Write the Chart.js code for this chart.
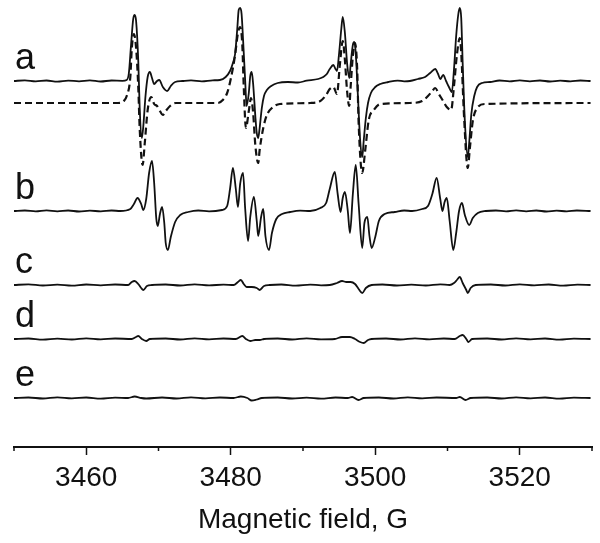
<!DOCTYPE html>
<html>
<head>
<meta charset="utf-8">
<script src="https://cdn.jsdelivr.net/npm/chart.js@4.4.0/dist/chart.umd.min.js"></script>
<style>
  body { margin: 0; background: #fff; }
  #wrap { width: 600px; height: 543px; }
</style>
</head>
<body>
<div id="wrap"><canvas id="eprChart"></canvas></div>
<script>
// EPR spectra, magnetic field in G, intensity in arbitrary units (baseline = 0)
const traceLabels = ['a', 'b', 'c', 'd', 'e'];
const tickValues = [3460, 3480, 3500, 3520];
const minorTickValues = [3450, 3470, 3490, 3510, 3530];

// trace a, solid
const aField = [3450.0, 3451.5, 3453.0, 3454.5, 3456.0, 3457.5, 3459.0, 3460.5, 3462.0, 3463.5, 3465.0,
  3465.6, 3465.9, 3466.2, 3466.5, 3466.7, 3466.9, 3467.2, 3467.4, 3467.7, 3467.9, 3468.2, 3468.5, 3468.8,
  3469.1, 3469.4, 3469.8, 3470.1, 3470.6, 3471.2, 3471.7, 3472.3, 3473.3, 3474.5, 3476.0, 3477.5,
  3478.5, 3479.3, 3479.9, 3480.3, 3480.6, 3480.9, 3481.1, 3481.3, 3481.5, 3481.7, 3482.0, 3482.2, 3482.5,
  3482.7, 3482.9, 3483.1, 3483.4, 3483.6, 3483.8, 3484.0, 3484.3, 3484.6, 3485.0, 3485.6, 3486.5, 3487.9,
  3489.3, 3490.5, 3492.1, 3492.8, 3493.3, 3493.7, 3494.2, 3494.5, 3494.7, 3495.0, 3495.3, 3495.5, 3495.8,
  3496.1, 3496.4, 3496.6, 3496.9, 3497.1, 3497.3, 3497.6, 3497.9, 3498.2, 3498.4, 3498.7, 3499.0, 3499.4,
  3500.0, 3500.7, 3501.8, 3503.1, 3504.0, 3504.8, 3505.9, 3506.9, 3507.6, 3508.3, 3508.7, 3509.0, 3509.4,
  3509.8, 3510.2, 3510.6, 3510.9, 3511.2, 3511.5, 3511.7, 3511.9, 3512.1, 3512.4, 3512.8, 3513.0, 3513.3,
  3513.7, 3514.1, 3514.8, 3515.9, 3517.2, 3518.6, 3520.0, 3521.4, 3522.8, 3524.2, 3525.6, 3527.0, 3528.4, 3529.8];
const aSolid = [0, 0.6, -0.4, 0.5, -0.6, 0.4, -0.3, 0.6, -0.5, 0.5, 0.2,
  1, 8, 36, 62, 66, 60, 20, -28, -57, -45, -15, 4, 9,
  3, -3, 0, 1, -6, -10, -5, -1, 0, 0.6, -0.3, 0.7,
  1, 4, 10, 18, 27, 52, 71, 73, 67, 42, 0, -25, -12,
  5, 9, -3, -35, -52, -57, -47, -27, -15, -9, -5, -2, -1,
  -1.5, 0.3, 2, 4, 7, 12, 16, 12, 10, 28, 52, 64, 48,
  18, 3, 17, 36, 39, 28, -15, -58, -76, -60, -37, -22, -12,
  -6, -3, -1, 0.4, -0.3, 0, 2, 4, 8, 12, 7, 2, 6,
  0, -6, -11, 12, 45, 67, 73, 63, 18, -40, -76, -62, -33,
  -15, -6, -2, -1, 0.5, -0.4, 0.6, -0.3, 0.5, -0.5, 0.4, -0.4, 0.5, 0];

// trace a, dashed
const aDashField = [3450.0, 3464.4, 3465.2, 3465.6, 3466.1, 3466.3, 3466.6, 3466.9, 3467.2, 3467.4, 3467.8,
  3468.1, 3468.5, 3469.0, 3469.4, 3469.8, 3470.2, 3470.6, 3471.0, 3471.6, 3472.4,
  3478.2, 3478.9, 3479.5, 3480.0, 3480.6, 3481.0, 3481.3, 3481.6, 3481.8, 3482.1, 3482.5, 3482.8, 3483.1,
  3483.4, 3483.8, 3484.0, 3484.5, 3485.0, 3485.7, 3486.8,
  3491.0, 3492.4, 3493.2, 3493.7, 3494.2, 3494.7, 3495.1, 3495.5, 3495.8, 3496.1, 3496.4, 3496.6, 3496.9,
  3497.2, 3497.5, 3497.7, 3498.2, 3498.6, 3499.1, 3499.8, 3500.7,
  3504.8, 3506.5, 3507.3, 3507.9, 3508.3, 3508.8, 3509.4, 3509.9, 3510.5, 3510.9, 3511.3, 3511.7, 3511.9,
  3512.3, 3512.8, 3513.1, 3513.5, 3514.1, 3515.2, 3529.8];
const aDash = [0, 0, 2, 7, 26, 54, 69, 55, 16, -26, -62,
  -40, -7, 6, -1, -3, -8, -12, -8, -3, 0,
  0, 3, 10, 24, 48, 70, 76, 58, 16, -25, -8, 5, -10,
  -42, -60, -47, -25, -12, -5, -1,
  0, 2, 8, 14, 16, 9, 38, 62, 43, 12, -3, 17, 47,
  60, 34, -20, -70, -48, -17, -7, -1,
  0, 2, 7, 12, 15, 9, 2, -4, -7, 17, 48, 65, 50,
  -15, -65, -45, -18, -5, -1, 0];

// trace b
const bField = [3450.0, 3451.5, 3453.0, 3454.5, 3456.0, 3457.5, 3459.0, 3460.5, 3462.0, 3463.5,
  3464.7, 3466.1, 3466.6, 3467.1, 3467.6, 3467.9, 3468.3, 3468.7, 3469.1, 3469.4, 3469.7, 3469.9, 3470.2,
  3470.5, 3470.8, 3471.0, 3471.3, 3471.7, 3472.3, 3473.0, 3474.1, 3475.5, 3477.0,
  3478.8, 3479.5, 3479.9, 3480.3, 3480.7, 3481.0, 3481.3, 3481.7, 3482.0, 3482.4, 3482.7, 3483.2, 3483.6,
  3483.8, 3484.2, 3484.5, 3484.8, 3485.3, 3485.7, 3486.3, 3487.1, 3488.2, 3489.6,
  3491.0, 3492.4, 3493.2, 3493.7, 3494.4, 3494.8, 3495.2, 3495.5, 3495.8, 3496.2, 3496.5, 3496.9, 3497.3,
  3497.7, 3498.2, 3498.5, 3498.9, 3499.2, 3499.5, 3500.0, 3500.5, 3501.3, 3502.7, 3504.0,
  3505.1, 3506.5, 3507.3, 3507.9, 3508.5, 3509.0, 3509.3, 3509.6, 3509.9, 3510.3, 3510.8, 3511.2, 3511.6,
  3512.0, 3512.4, 3513.0, 3513.5, 3514.2, 3515.3, 3516.7, 3518.1, 3519.5, 3520.9, 3522.3, 3523.7, 3525.1,
  3526.5, 3527.9, 3529.8];
const bValue = [0, 0.5, -0.4, 0.6, -0.3, 0.5, -0.5, 0.4, -0.4, 0.5,
  0, 2, 7, 13, 7, 1, 12, 38, 50, 28, -8, -15, -3,
  4, -12, -32, -39, -26, -11, -4, -1, 0.5, -0.3,
  1, 5, 22, 43, 22, 4, 27, 38, 2, -30, -6, 14, -10,
  -25, -6, 2, -25, -39, -22, -8, -3, -1, 0.4,
  0, 3, 8, 22, 39, 17, -1, 13, 19, 0, -22, 17, 46,
  7, -37, -12, -6, -25, -37, -26, -10, -3, -1, 0.5,
  0, 2, 5, 17, 33, 12, 0, 9, 13, -10, -39, -22, 0,
  8, -4, -14, -7, -2, 0, 0.5, -0.4, 0.6, -0.3, 0.5, -0.5, 0.4,
  -0.4, 0.5, 0];

// trace c
const cField = [3450.0, 3452.0, 3454.0, 3456.0, 3458.0, 3460.0, 3462.0, 3464.0,
  3465.8, 3466.3, 3466.7, 3467.2, 3467.6, 3467.9, 3468.4, 3469.1, 3471.0, 3473.0, 3475.0, 3477.0, 3479.0,
  3480.4, 3481.0, 3481.4, 3481.8, 3482.2, 3482.9, 3483.6, 3484.0, 3484.6, 3485.4, 3487.0, 3489.0, 3491.0, 3492.5,
  3493.7, 3494.7, 3495.4, 3496.0, 3496.6, 3497.2, 3497.7, 3498.2, 3498.7, 3499.5, 3501.0, 3503.0, 3505.0,
  3507.0, 3509.0, 3510.3, 3510.9, 3511.3, 3511.7, 3512.1, 3512.6, 3512.8, 3513.2, 3513.9, 3516.0, 3518.0,
  3520.0, 3522.0, 3524.0, 3526.0, 3528.0, 3529.8];
const cValue = [0, 0.6, -0.5, 0.4, -0.6, 0.5, -0.4, 0.5,
  0, 3, 4, 1, -3, -5, -1, 0, 0.5, -0.5, 0.6, -0.4, 0.4,
  0, 3, 5, 1, -2, -2, -3, -5, -1, 0, 0.5, -0.6, 0.4, -0.3,
  0, 2, 4, 3, 3, 1, -4, -8, -3, 0, 0.5, -0.5, 0.4,
  -0.5, 0.6, 0, 2, 5, 8, 2, -5, -8, -3, 0, 0.5, -0.5,
  0.6, -0.4, 0.5, -0.6, 0.4, 0];

// trace d
const dField = [3450.0, 3452.0, 3454.0, 3456.0, 3458.0, 3460.0, 3462.0, 3464.0,
  3466.3, 3466.9, 3467.2, 3467.7, 3468.3, 3468.8, 3471.0, 3473.0, 3475.0, 3477.0, 3479.0,
  3480.7, 3481.6, 3482.1, 3482.7, 3483.4, 3484.0, 3484.6, 3486.5, 3488.5, 3490.5, 3492.5,
  3494.4, 3495.4, 3496.5, 3497.2, 3497.9, 3498.4, 3499.0, 3499.5, 3501.5, 3503.5, 3505.5, 3507.5, 3509.5,
  3511.0, 3511.7, 3512.1, 3512.6, 3512.9, 3513.4, 3515.5, 3517.5, 3519.5, 3521.5, 3523.5, 3525.5, 3527.5, 3529.8];
const dValue = [0, 0.5, -0.6, 0.4, -0.5, 0.6, -0.4, 0.5,
  0, 2, 3, 0, -2, 0, 0.5, -0.5, 0.6, -0.4, 0.5,
  0, 3, 0, -2, -1, -1, 0, 0.5, -0.5, 0.6, -0.4,
  0, 2, 2, 0, -3, -4, -1, 0, 0.5, -0.5, 0.6, -0.4, 0.5,
  0, 3, 4, 0, -3, 0, 0.5, -0.5, 0.6, -0.4, 0.5, -0.6, 0.4, 0];

// trace e
const eField = [3450.0, 3452.0, 3454.0, 3456.0, 3458.0, 3460.0, 3462.0, 3464.0,
  3465.8, 3466.7, 3467.6, 3468.3, 3470.5, 3472.5, 3474.5, 3476.5, 3478.5,
  3480.4, 3481.4, 3482.3, 3482.9, 3483.6, 3484.3, 3486.5, 3488.5, 3490.5, 3492.5, 3494.5,
  3496.2, 3496.8, 3497.7, 3498.4, 3500.5, 3502.5, 3504.5, 3506.5, 3508.5,
  3511.2, 3511.7, 3512.5, 3513.2, 3515.5, 3517.5, 3519.5, 3521.5, 3523.5, 3525.5, 3527.5, 3529.8];
const eValue = [0, 0.5, -0.5, 0.6, -0.4, 0.5, -0.6, 0.4,
  0, 1.5, 0, -0.5, 0.5, -0.5, 0.6, -0.4, 0.5,
  0, 1.5, 0, -2.5, -1.5, 0, 0.5, -0.5, 0.4, -0.6, 0.5,
  0, 1, -2, 0, 0.5, -0.5, 0.6, -0.4, 0.5,
  0, 1, -2, 0, 0.5, -0.5, 0.6, -0.4, 0.5, -0.6, 0.4, 0];

// vertical offset of each trace's baseline
const offsets = { a: 366, aDash: 344, b: 236, c: 162, d: 108, e: 49 };

function pts(field, vals, off) {
  return field.map((f, i) => ({ x: f, y: vals[i] + off }));
}

const lineCol = '#111';
const fontFamily = '"Liberation Sans", Arial, sans-serif';

const traceLetters = {
  id: 'traceLetters',
  afterDatasetsDraw(chart) {
    const { ctx, scales: { x, y } } = chart;
    const keys = ['a', 'b', 'c', 'd', 'e'];
    ctx.save();
    ctx.fillStyle = lineCol;
    ctx.font = '36px ' + fontFamily;
    ctx.textBaseline = 'alphabetic';
    keys.forEach((k, i) => {
      ctx.fillText(traceLabels[i], x.left + 1, y.getPixelForValue(offsets[k]) - 12);
    });
    ctx.restore();
  }
};

const minorTicks = {
  id: 'minorTicks',
  afterDraw(chart) {
    const { ctx, scales: { x } } = chart;
    ctx.save();
    ctx.strokeStyle = lineCol;
    ctx.lineWidth = 1.5;
    minorTickValues.forEach(v => {
      const px = x.getPixelForValue(v);
      ctx.beginPath();
      ctx.moveTo(px, x.top);
      ctx.lineTo(px, x.top + 4);
      ctx.stroke();
    });
    ctx.restore();
  }
};

const solid = { borderColor: lineCol, borderWidth: 1.8, pointRadius: 0, cubicInterpolationMode: 'monotone', fill: false };

new Chart(document.getElementById('eprChart'), {
  type: 'line',
  data: {
    datasets: [
      Object.assign({ data: pts(aField, aSolid, offsets.a) }, solid),
      Object.assign({ data: pts(aDashField, aDash, offsets.aDash) }, solid, { borderWidth: 2.2, borderDash: [7, 4] }),
      Object.assign({ data: pts(bField, bValue, offsets.b) }, solid),
      Object.assign({ data: pts(cField, cValue, offsets.c) }, solid),
      Object.assign({ data: pts(dField, dValue, offsets.d) }, solid),
      Object.assign({ data: pts(eField, eValue, offsets.e) }, solid)
    ]
  },
  options: {
    responsive: true,
    maintainAspectRatio: false,
    animation: false,
    layout: { padding: { left: 14, right: 8, top: 0, bottom: 0 } },
    plugins: { legend: { display: false }, tooltip: { enabled: false } },
    scales: {
      x: {
        type: 'linear',
        min: 3450,
        max: 3530,
        afterFit(scale) { scale.height = 96; },
        afterBuildTicks(scale) { scale.ticks = tickValues.map(v => ({ value: v })); },
        border: { display: true, color: lineCol, width: 2 },
        grid: { drawOnChartArea: false, drawTicks: true, tickLength: 8, tickColor: lineCol, tickWidth: 1.5 },
        ticks: { color: lineCol, padding: 6, maxRotation: 0, callback: v => String(v), font: { family: fontFamily, size: 28 } },
        title: { display: true, text: 'Magnetic field, G', color: lineCol, padding: { top: 0, bottom: 6 }, font: { family: fontFamily, size: 28 } }
      },
      y: { display: false, min: 0, max: 447 }
    }
  },
  plugins: [traceLetters, minorTicks]
});
</script>
</body>
</html>
